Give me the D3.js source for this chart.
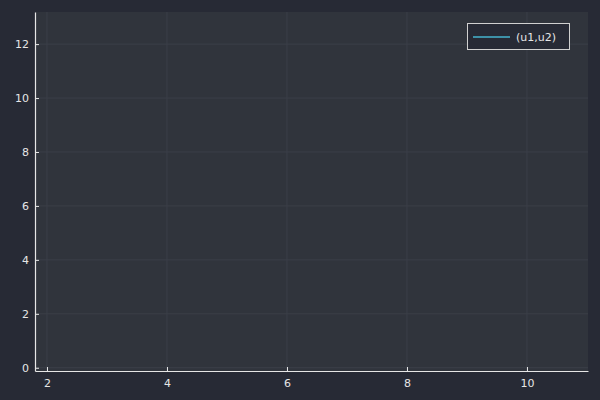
<!DOCTYPE html>
<html><head><meta charset="utf-8">
<script src="https://cdn.jsdelivr.net/npm/d3@7"></script>
<style>html,body{margin:0;padding:0;background:#272a35;}svg{display:block;}</style>
</head><body>
<svg id="c" width="600" height="400"></svg>
<script>
// Data (the series is empty in the reference: no visible line)
const seriesName = "(u1,u2)";
const u1 = [];
const u2 = [];
const xTicks = [2, 4, 6, 8, 10];
const yTicks = [0, 2, 4, 6, 8, 10, 12];
const xDomain = [1.8, 11.017];
const yDomain = [-0.12, 13.19];

const W = 600, H = 400;
const m = {left: 35, right: 12, top: 12, bottom: 29};
const svg = d3.select("#c");
const bg = "#272a35", plotBg = "#30343c", grid = "#3b3f48", fg = "#e6e6e6", lineColor = "#46b4cf";

svg.append("rect").attr("width", W).attr("height", H).attr("fill", bg);
const x = d3.scaleLinear().domain(xDomain).range([m.left, W - m.right]);
const y = d3.scaleLinear().domain(yDomain).range([H - m.bottom, m.top]);

svg.append("rect").attr("x", m.left).attr("y", m.top)
  .attr("width", W - m.right - m.left).attr("height", H - m.bottom - m.top)
  .attr("fill", plotBg);

// grid
svg.append("g").selectAll("line").data(xTicks).join("line")
  .attr("x1", d => x(d)).attr("x2", d => x(d))
  .attr("y1", m.top).attr("y2", H - m.bottom)
  .attr("stroke", grid).attr("stroke-width", 1);
svg.append("g").selectAll("line").data(yTicks).join("line")
  .attr("y1", d => y(d)).attr("y2", d => y(d))
  .attr("x1", m.left).attr("x2", W - m.right)
  .attr("stroke", grid).attr("stroke-width", 1);

// axes
const font = "'DejaVu Sans', sans-serif";
const xAxis = svg.append("g").attr("transform", `translate(0,${H - m.bottom})`)
  .call(d3.axisBottom(x).tickValues(xTicks).tickSizeInner(-4).tickSizeOuter(0).tickPadding(8));
const yAxis = svg.append("g").attr("transform", `translate(${m.left},0)`)
  .call(d3.axisLeft(y).tickValues(yTicks).tickSizeInner(-4).tickSizeOuter(0).tickPadding(6));
[xAxis, yAxis].forEach(a => {
  a.select(".domain").attr("stroke", fg).attr("stroke-width", 1.2);
  a.selectAll(".tick line").attr("stroke", fg).attr("stroke-width", 1);
  a.selectAll(".tick text").attr("fill", fg).style("font-family", font).style("font-size", "11px");
});

// series line (empty data)
const line = d3.line().x((d, i) => x(u1[i])).y((d, i) => y(u2[i]));
svg.append("path").datum(u1).attr("d", line(u1) || "")
  .attr("fill", "none").attr("stroke", lineColor).attr("stroke-width", 1);

// legend
const lg = svg.append("g");
lg.append("rect").attr("x", 467.5).attr("y", 23.5).attr("width", 102).attr("height", 26)
  .attr("fill", bg).attr("stroke", "#d0d0d0").attr("stroke-width", 1);
lg.append("line").attr("x1", 473).attr("x2", 510).attr("y1", 37).attr("y2", 37)
  .attr("stroke", lineColor).attr("stroke-width", 1.5);
lg.append("text").attr("x", 516).attr("y", 41).text(seriesName)
  .attr("fill", fg).style("font-family", font).style("font-size", "11px");
</script>
</body></html>
